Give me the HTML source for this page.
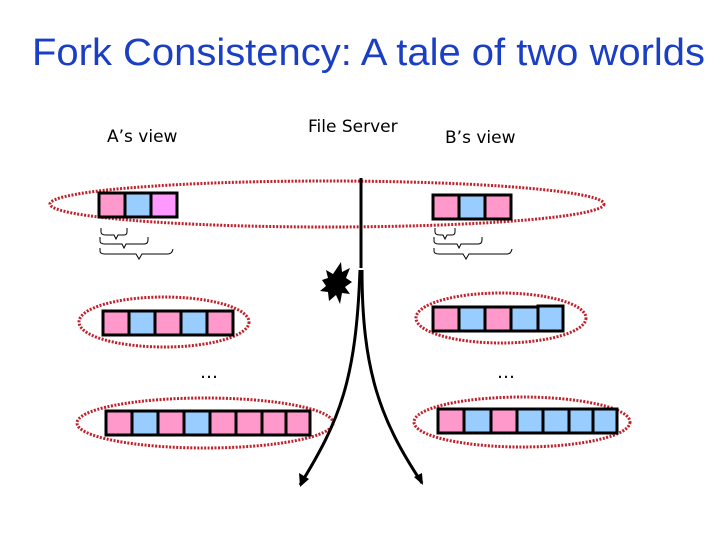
<!DOCTYPE html>
<html><head><style>
body{margin:0;background:#fff;}
svg{display:block;}
text{font-family:"DejaVu Sans","Liberation Sans",sans-serif;}
</style></head><body>
<svg width="720" height="540" xmlns="http://www.w3.org/2000/svg">
<text x="32" y="65" font-size="38" fill="#1a3fc4" textLength="673" lengthAdjust="spacingAndGlyphs" style="font-family:'Liberation Sans',sans-serif">Fork Consistency: A tale of two worlds</text>
<text x="107" y="142" font-size="17">A’s view</text>
<text x="308" y="132" font-size="17">File Server</text>
<text x="445" y="143" font-size="17">B’s view</text>
<g fill="none" stroke="#c0202a" stroke-width="3" stroke-dasharray="2,1.5">
<ellipse cx="327" cy="204" rx="277" ry="23"/>
<ellipse cx="164" cy="322" rx="85" ry="25"/>
<ellipse cx="205" cy="423" rx="128" ry="25"/>
<ellipse cx="501" cy="318" rx="85" ry="25"/>
<ellipse cx="522" cy="422" rx="108" ry="25"/>
</g>
<g stroke="#000" stroke-width="3">
<rect x="99" y="193" width="26" height="24" fill="#ff99cc"/>
<rect x="125" y="193" width="26" height="24" fill="#99ccff"/>
<rect x="151" y="193" width="26" height="24" fill="#ff99ff"/>
<rect x="103" y="311" width="26" height="24" fill="#ff99cc"/>
<rect x="129" y="311" width="26" height="24" fill="#99ccff"/>
<rect x="155" y="311" width="26" height="24" fill="#ff99cc"/>
<rect x="181" y="311" width="26" height="24" fill="#99ccff"/>
<rect x="207" y="311" width="26" height="24" fill="#ff99cc"/>
<rect x="106" y="411" width="26" height="24" fill="#ff99cc"/>
<rect x="132" y="411" width="26" height="24" fill="#99ccff"/>
<rect x="158" y="411" width="26" height="24" fill="#ff99cc"/>
<rect x="184" y="411" width="26" height="24" fill="#99ccff"/>
<rect x="210" y="411" width="26" height="24" fill="#ff99cc"/>
<rect x="236" y="411" width="26" height="24" fill="#ff99cc"/>
<rect x="262" y="411" width="24" height="24" fill="#ff99cc"/>
<rect x="286" y="411" width="24" height="24" fill="#ff99cc"/>
<rect x="433" y="195" width="26" height="24" fill="#ff99cc"/>
<rect x="459" y="195" width="26" height="24" fill="#99ccff"/>
<rect x="485" y="195" width="26" height="24" fill="#ff99cc"/>
<rect x="433" y="307" width="26" height="24" fill="#ff99cc"/>
<rect x="459" y="307" width="26" height="24" fill="#99ccff"/>
<rect x="485" y="307" width="26" height="24" fill="#ff99cc"/>
<rect x="511" y="307" width="27" height="24" fill="#99ccff"/>
<rect x="538" y="306" width="25" height="25" fill="#99ccff"/>
<rect x="438" y="409" width="26" height="24" fill="#ff99cc"/>
<rect x="464" y="409" width="27" height="24" fill="#99ccff"/>
<rect x="491" y="409" width="26" height="24" fill="#ff99cc"/>
<rect x="517" y="409" width="26" height="24" fill="#99ccff"/>
<rect x="543" y="409" width="26" height="24" fill="#99ccff"/>
<rect x="569" y="409" width="24" height="24" fill="#99ccff"/>
<rect x="593" y="409" width="24" height="24" fill="#99ccff"/>
</g>
<g fill="none" stroke="#000" stroke-width="1">
<path d="M101 228 v4 q0 3 5 3 h8 l2 4 l2 -4 h6 q3 0 3 -3 v-4"/>
<path d="M100 237 v4 q0 3 5 3 h17 l2 4 l2 -4 h18 q4 0 4 -4 v-3"/>
<path d="M100 248 v3 q0 3 5 3 h31 l3 5 l3 -5 h26 q4 0 5 -5"/>
<path d="M435 228 v4 q0 3 5 3 h3 l2 4 l2 -4 h5 q3 0 3 -3 v-4"/>
<path d="M434 237 v4 q0 3 5 3 h18 l2 4 l2 -4 h17 q4 0 4 -4 v-3"/>
<path d="M434 248 v3 q0 3 5 3 h24 l3 5 l3 -5 h38 q4 0 5 -5"/>
</g>
<g fill="none" stroke="#000" stroke-width="3">
<path d="M361 178 V268"/>
<path d="M360 270 C356 380 340 420 300 485"/>
<path d="M362 270 C362 370 380 420 422 483"/>
</g>
<path d="M300 487 l-1 -14 l10 6 z" fill="#000"/>
<path d="M423 485 l-9 -8 l8 -4 z" fill="#000"/>
<polygon fill="#000" points="341,262 342,272 350,268 346,278 352,282 345,287 350,294 342,293 340,304 336,295 329,301 328,292 320,291 326,286 322,280 328,278 326,270 333,274"/>
<text x="200" y="378" font-size="18">…</text>
<text x="497" y="378" font-size="18">…</text>
</svg>
</body></html>
